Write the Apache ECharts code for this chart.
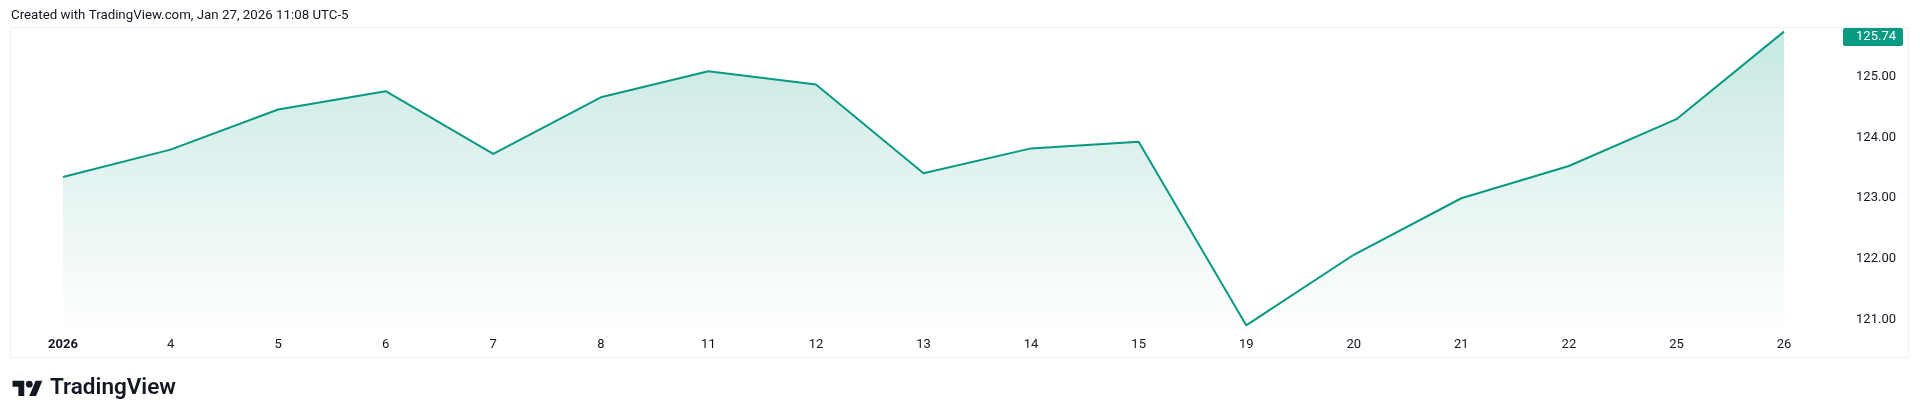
<!DOCTYPE html>
<html>
<head>
<meta charset="utf-8">
<title>TradingView snapshot</title>
<script src="https://cdn.jsdelivr.net/npm/echarts@6/dist/echarts.min.js"></script>
<style>
    html, body {
        margin: 0;
        padding: 0;
        background: #ffffff;
    }
    #myChart {
        width: 1920px;
        height: 420px;
    }
</style>
</head>
<body>
<div id="myChart"></div>
<script>
    // dates on the time scale (first one is the year marker)
    var dates = ['2026', '4', '5', '6', '7', '8', '11', '12', '13', '14', '15', '19', '20', '21', '22', '25', '26']
    // daily closes
    var closes = [123.35, 123.80, 124.46, 124.76, 123.73, 124.66, 125.09, 124.87, 123.41, 123.82, 123.93, 120.91, 122.07, 123.00, 123.53, 124.30, 125.74]
    // price scale labels
    var priceTicks = [121, 122, 123, 124, 125]

    var headerText = 'Created with TradingView.com, Jan 27, 2026 11:08 UTC-5'
    var lineColor = '#089981'
    var textColor = '#131722'
    var fontName = 'Roboto, "Noto Sans", sans-serif'

    var myChart = echarts.init(document.getElementById('myChart'))

    myChart.setOption({
        animation: false,
        backgroundColor: '#ffffff',
        grid: {
            left: 63,
            right: 136,
            top: 28,
            bottom: 88,
            containLabel: false
        },
        xAxis: {
            type: 'category',
            data: dates,
            boundaryGap: false,
            axisLine: {show: false},
            axisTick: {show: false},
            splitLine: {show: false},
            axisLabel: {
                interval: 0,
                margin: 6,
                color: textColor,
                fontSize: 13,
                fontFamily: fontName,
                formatter: function (v, i) {
                    return i === 0 ? '{b|' + v + '}' : v
                },
                rich: {
                    b: {
                        fontWeight: 'bold',
                        fontSize: 13,
                        color: textColor,
                        fontFamily: fontName
                    }
                }
            }
        },
        yAxis: {
            type: 'value',
            position: 'right',
            min: 120.8,
            max: 125.8,
            axisLine: {show: false},
            axisTick: {show: false},
            splitLine: {show: false},
            axisLabel: {
                customValues: priceTicks,
                align: 'right',
                margin: 112,
                color: textColor,
                fontSize: 13,
                fontFamily: fontName,
                formatter: function (v) {
                    return v.toFixed(2)
                }
            }
        },
        series: [
            {
                type: 'line',
                data: closes,
                showSymbol: false,
                symbol: 'none',
                lineStyle: {
                    width: 2,
                    color: lineColor
                },
                areaStyle: {
                    origin: 'start',
                    color: {
                        type: 'linear',
                        x: 0, y: 0, x2: 0, y2: 1,
                        colorStops: [
                            {offset: 0, color: 'rgba(8,153,129,0.32)'},
                            {offset: 1, color: 'rgba(8,153,129,0.00)'}
                        ]
                    }
                }
            }
        ]
    })

    // last price tag on the price scale, kept inside the pane
    var lastIdx = closes.length - 1
    var lastY = myChart.convertToPixel({yAxisIndex: 0}, closes[lastIdx])
    var tagH = 18
    var tagTop = Math.max(28, lastY - tagH / 2)

    myChart.setOption({
        graphic: [
            {
                type: 'text',
                x: 11,
                y: 16,
                style: {
                    text: headerText,
                    fill: textColor,
                    font: '13.3px ' + fontName,
                    verticalAlign: 'middle'
                }
            },
            {
                type: 'rect',
                shape: {x: 10.5, y: 27.5, width: 1898, height: 330},
                style: {fill: 'none', stroke: '#eceff3', lineWidth: 1},
                silent: true
            },
            {
                type: 'rect',
                shape: {x: 1843, y: tagTop, width: 60, height: tagH, r: 2},
                style: {fill: lineColor}
            },
            {
                type: 'text',
                x: 1896,
                y: tagTop + tagH / 2,
                style: {
                    text: closes[lastIdx].toFixed(2),
                    fill: '#ffffff',
                    font: '13px ' + fontName,
                    align: 'right',
                    verticalAlign: 'middle'
                }
            },
            {
                // TradingView logo mark
                type: 'group',
                x: 12.5,
                y: 377.5,
                scaleX: 0.84,
                scaleY: 0.84,
                children: [
                    {
                        type: 'polygon',
                        shape: {points: [[14, 22], [7, 22], [7, 11], [0, 11], [0, 4], [14, 4]]},
                        style: {fill: textColor}
                    },
                    {
                        type: 'polygon',
                        shape: {points: [[28, 22], [20, 22], [27.5, 4], [35.5, 4]]},
                        style: {fill: textColor}
                    },
                    {
                        type: 'circle',
                        shape: {cx: 20, cy: 8, r: 4},
                        style: {fill: textColor}
                    }
                ]
            },
            {
                type: 'text',
                x: 50,
                y: 388,
                style: {
                    text: 'TradingView',
                    fill: textColor,
                    font: '600 22.5px ' + fontName,
                    verticalAlign: 'middle'
                }
            }
        ]
    })
</script>
</body>
</html>
